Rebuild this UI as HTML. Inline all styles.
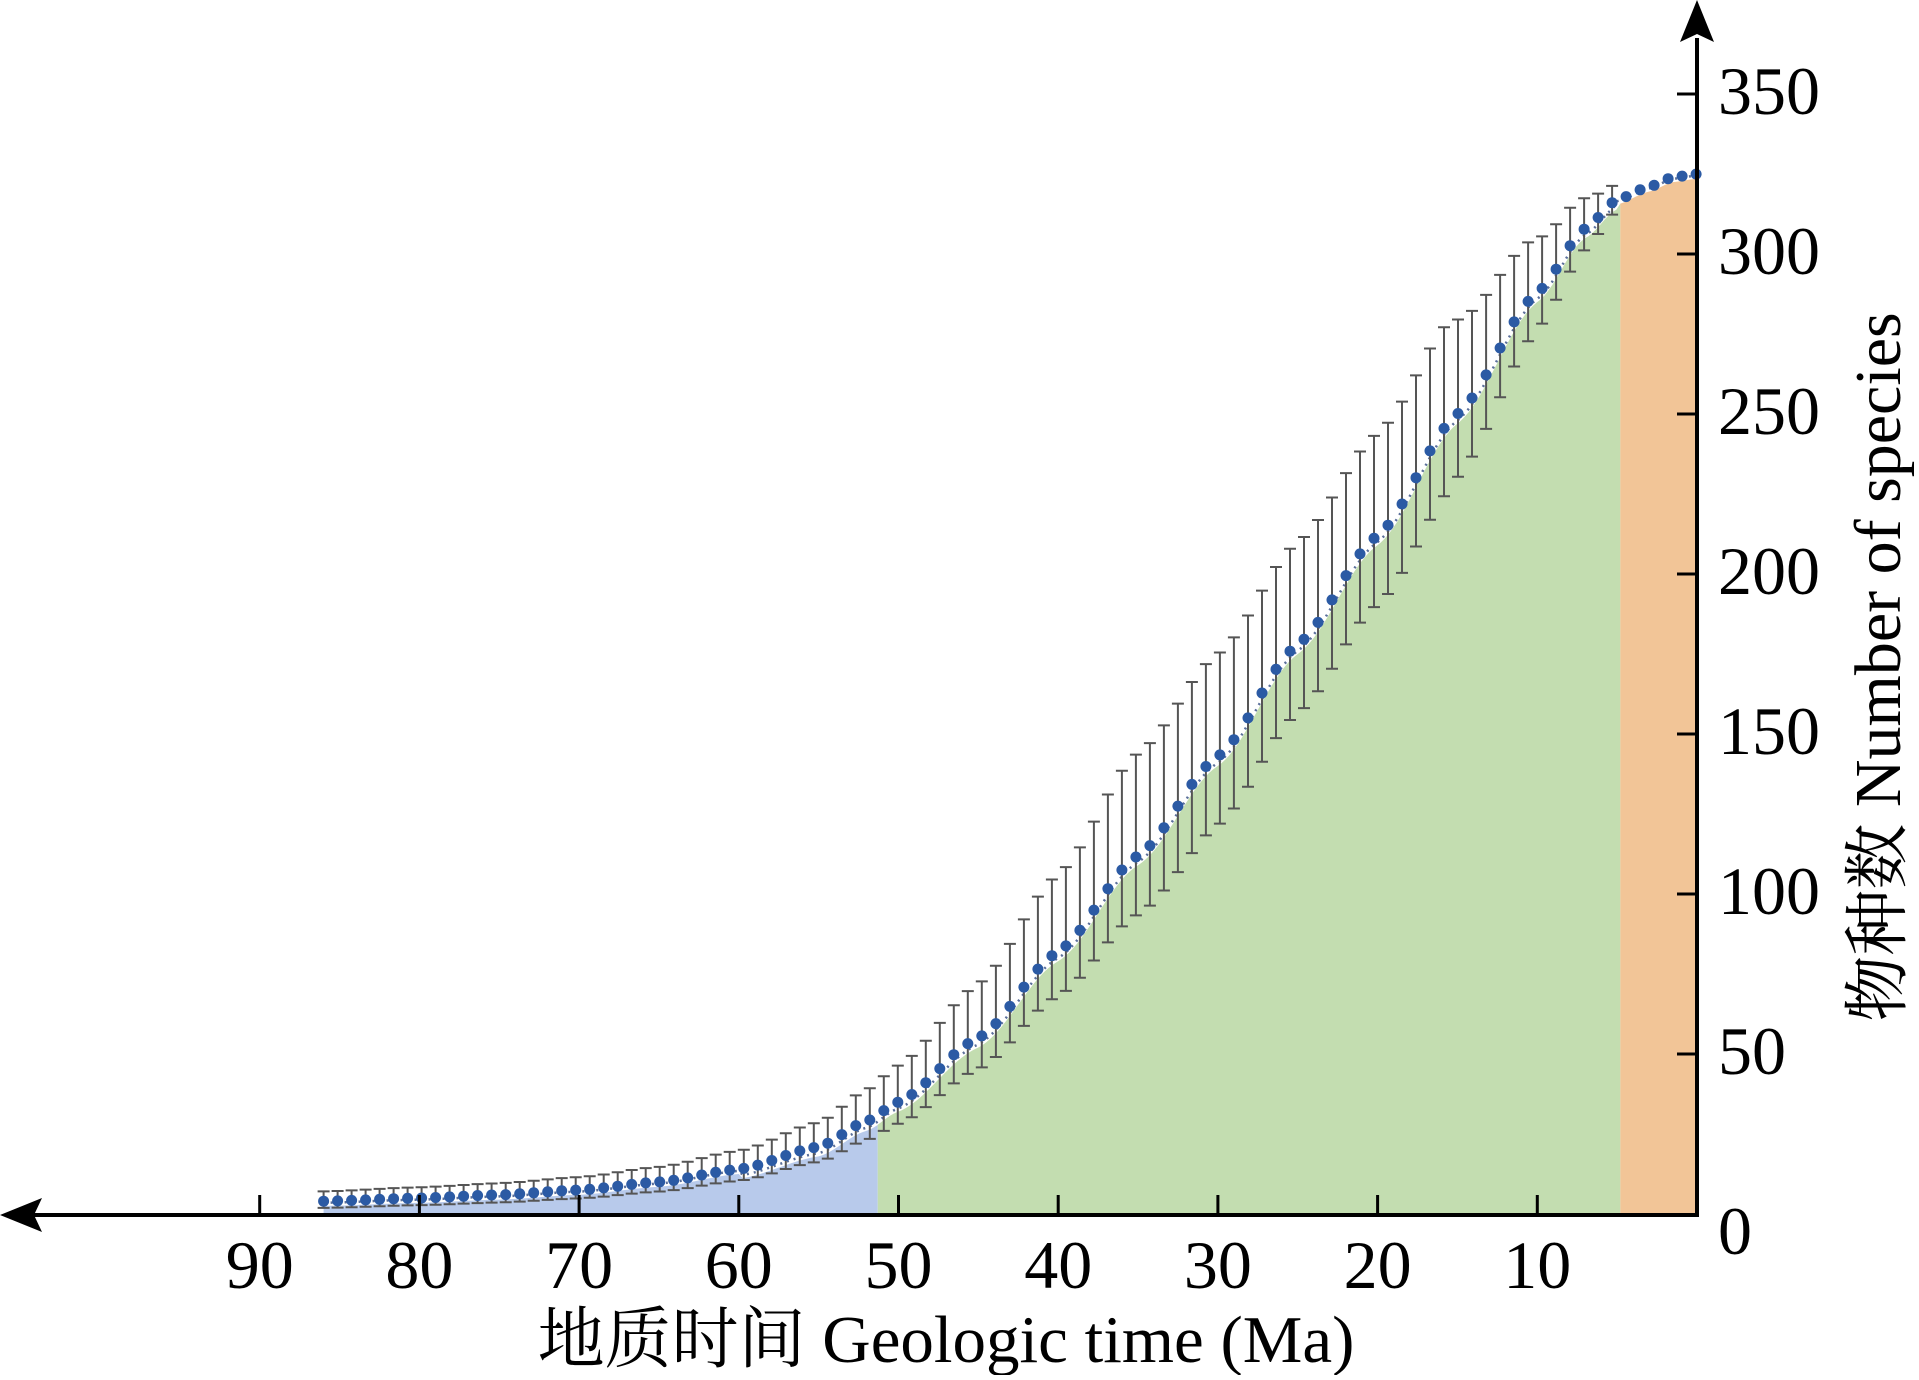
<!DOCTYPE html>
<html><head><meta charset="utf-8"><style>
html,body{margin:0;padding:0;background:#fff;}
svg text{font-family:"Liberation Serif","Noto Serif CJK SC",serif;fill:#000;}
</style></head><body>
<svg id="s" width="1919" height="1375" viewBox="0 0 1919 1375" xmlns="http://www.w3.org/2000/svg"></svg>
<script>
const S=document.getElementById('s');
const X=t=>1697-15.97*t, Y=v=>1214-3.2*v;
const K=[[86,4],[80,5],[75,6],[70,7.5],[65,10],[60,14],[55,21],[52,29],[50,35],[45,55],[40,82],[35,112],[30,143],[25,178],[20,212],[15,250],[10,288],[7,308],[5,317],[3,321],[1.5,324],[0,325]];
function V(t){for(let i=0;i<K.length-1;i++){const a=K[i],b=K[i+1];if(t<=a[0]&&t>=b[0]){const f=(a[0]-t)/(a[0]-b[0]);const g=(1-Math.cos(Math.PI*f))/2;return a[1]+(b[1]-a[1])*(0.5*f+0.5*g);}}return 325;}
const F=t=>Math.max(V(t)-(t>5&&t<60?3:1.5),0);
let h='';
function area(t0,t1,c){let p=`M${X(t0)},${Y(0)}`;for(let t=t0;t>=t1-1e-6;t-=0.25)p+=` L${X(t).toFixed(1)},${Y(F(t)).toFixed(1)}`;p+=` L${X(t1)},${Y(F(t1))} L${X(t1)},${Y(0)} Z`;h+=`<path d="${p}" fill="${c}"/>`;}
area(86,51.3,'#b8caeb');area(51.3,4.8,'#c3ddb0');area(4.8,0,'#f2c597');
let d='';for(let t=86;t>=0;t-=0.25)d+=(d?' L':'M')+X(t).toFixed(1)+','+Y(F(t)+1).toFixed(1);
h+=`<path d="${d}" fill="none" stroke="#5a6f9a" stroke-width="2.5" stroke-dasharray="2 5"/>`;
let e='',c='';
for(let t=86;t>=-0.01;t-=0.877){const v=V(t);
if(t>4.5){const tp=Math.min(1,(t-4)/12);const up=(Math.min(0.27*v,30)*tp+2),lo=(Math.min(0.15*v,20)*tp+1.5);
const x=X(t).toFixed(1);e+=`<path d="M${x},${Y(v+up)}V${Y(Math.max(v-lo,0))}M${+x-6},${Y(v+up)}h12M${+x-6},${Y(Math.max(v-lo,0))}h12" stroke="#555" stroke-width="2" fill="none"/>`;}
c+=`<circle cx="${X(t).toFixed(1)}" cy="${Y(v).toFixed(1)}" r="5.5" fill="#2b5aa4"/>`;}
h+=e+c;
h+=`<line x1="22" y1="1215" x2="1698" y2="1215" stroke="#000" stroke-width="4"/><line x1="1697" y1="1217" x2="1697" y2="38" stroke="#000" stroke-width="4"/>`;
h+=`<path d="M1697,0 L1680,42 L1697,34 L1714,42 Z" fill="#000"/><path d="M0,1215 L42,1198 L34,1215 L42,1232 Z" fill="#000"/>`;
for(let t=10;t<=90;t+=10){const x=X(t);h+=`<line x1="${x}" y1="1195" x2="${x}" y2="1215" stroke="#000" stroke-width="3"/><text x="${x}" y="1288" font-size="68" text-anchor="middle">${t}</text>`;}
for(let v=50;v<=350;v+=50){const y=Y(v);h+=`<line x1="1677" y1="${y}" x2="1697" y2="${y}" stroke="#000" stroke-width="3"/><text x="1718" y="${y+20}" font-size="68">${v}</text>`;}
h+=`<text x="1718" y="1254" font-size="68">0</text>`;
h+=`<text x="946" y="1362" font-size="67" text-anchor="middle">地质时间 Geologic time (Ma)</text>`;
h+=`<text transform="translate(1900,667) rotate(-90)" font-size="66" text-anchor="middle">物种数 Number of species</text>`;
S.innerHTML=h;
</script>
</body></html>
